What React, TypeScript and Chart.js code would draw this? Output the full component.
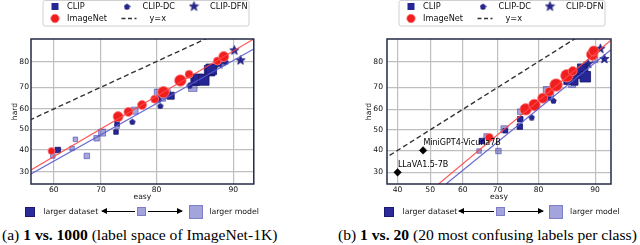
import React, { useEffect, useRef } from "react";
import { Chart, registerables } from "chart.js";

Chart.register(...registerables);

// ---------------- shared ticks ----------------
const yTicks = [30, 40, 50, 60, 70, 80];
const legendLabels = ["CLIP", "CLIP-DC", "CLIP-DFN", "ImageNet", "y=x"];

// ---------------- panel (a): 1 vs. 1000 ----------------
const xTicksA = [60, 70, 80, 90];
const xRangeA = [54.9, 91.9];
const yRangeA = [24.9, 86.9];

const clipLargeDataA_easy = [60.9, 72.9, 73.1, 82.2, 85.6, 86.0, 86.7, 87.4, 87.6];
const clipLargeDataA_hard = [39.9, 48.7, 52.8, 66.2, 72.5, 73.3, 73.0, 76.7, 77.2];
const clipLargeDataA_model = [2, 1, 1, 3, 4, 5, 5, 5, 5];

const clipSmallDataA_easy = [59.8, 64.0, 64.7, 67.1, 69.1, 70.2, 73.1, 76.3, 80.2, 80.9, 81.5, 85.3, 88.9];
const clipSmallDataA_hard = [37.1, 40.7, 45.1, 37.1, 45.6, 48.4, 51.5, 59.2, 67.6, 65.3, 67.0, 70.0, 79.5];
const clipSmallDataA_model = [1, 1, 1, 2, 2, 3, 1, 3, 3, 3, 4, 4, 2];

const clipDcA_easy = [75.9, 80.3, 80.6, 84.9, 89.2];
const clipDcA_hard = [53.8, 64.6, 61.5, 70.8, 79.9];

const clipDfnA_easy = [88.5, 90.1, 90.7];
const clipDfnA_hard = [79.2, 83.8, 80.6];

const imagenetA_easy = [59.5, 73.3, 75.2, 77.6, 79.7, 81.1, 83.6, 84.8, 88.3, 89.0];
const imagenetA_hard = [39.4, 56.3, 58.6, 61.9, 64.6, 67.8, 72.8, 75.3, 80.2, 81.7];
const imagenetA_model = [1, 4, 3, 3, 2, 5, 5, 2, 2, 4];

const redFitA_easy = [54.9, 91.9];
const redFitA_hard = [30.7, 86.9];
const blueFitA_easy = [54.9, 91.9];
const blueFitA_hard = [29.0, 84.1];

// ---------------- panel (b): 1 vs. 20 ----------------
const xTicksB = [40, 50, 60, 70, 80, 90];
const xRangeB = [36.86, 92.0];
const yRangeB = [25.2, 86.9];

const clipLargeDataB_easy = [65.6, 72.0, 75.7, 75.8, 82.0, 85.8, 86.9, 87.5, 88.2, 88.6];
const clipLargeDataB_hard = [44.5, 49.6, 51.6, 55.2, 66.0, 73.0, 72.4, 75.7, 77.3, 74.4];
const clipLargeDataB_model = [2, 1, 2, 2, 1, 4, 3, 5, 5, 5];

const clipSmallDataB_easy = [64.8, 66.8, 70.2, 71.8, 75.8, 82.1, 86.5, 90.0];
const clipSmallDataB_hard = [39.7, 47.0, 39.7, 50.3, 58.9, 68.1, 71.5, 80.6];
const clipSmallDataB_model = [1, 1, 2, 3, 2, 5, 3, 2];

const clipDcB_easy = [78.5, 82.1, 83.1];
const clipDcB_hard = [56.2, 65.5, 64.1];

const clipDfnB_easy = [89.0, 90.7, 91.2];
const clipDfnB_hard = [79.4, 84.3, 81.1];

const imagenetB_easy = [67.7, 77.1, 79.1, 80.9, 82.3, 83.6, 85.6, 86.6, 89.6, 89.8];
const imagenetB_hard = [46.3, 60.0, 62.1, 65.2, 68.1, 71.0, 74.8, 76.6, 82.4, 83.5];
const imagenetB_model = [2, 5, 5, 4, 3, 6, 6, 3, 5, 4];

const mllmB_names = ["LLaVA1.5-7B", "MiniGPT4-Vicuna7B"];
const mllmB_easy = [40.0, 47.8];
const mllmB_hard = [30.0, 40.0];

const redFitB_easy = [52.6, 92.0];
const redFitB_hard = [25.2, 86.6];
const blueFitB_easy = [54.9, 92.0];
const blueFitB_hard = [25.2, 83.9];

const identity = [20, 96];

// ---------------- styles ----------------
const FONT = '"DejaVu Sans", sans-serif';
const SERIF = '"Liberation Serif", "Times New Roman", serif';
const NAVY = "rgb(38,38,150)";
const NAVY_EDGE = "rgb(22,22,105)";
const LIGHT = "rgba(60,60,175,0.45)";
const LIGHT_EDGE = "rgba(60,60,175,0.7)";
const RED = "rgb(240,30,30)";
const RED_EDGE = "rgb(255,120,120)";
const GRID = "#bfbfbf";
const SQUARE_SIDE = [0, 4.5, 5.5, 7, 8.5, 10.5, 12.5];
const CIRCLE_DIAM = [0, 7, 8, 9, 10, 11.5, 12.5];

// inverse normal CDF (probit), used for the probit-scaled axes
function probit(p: number): number {
  const a = [-39.69683028665376, 220.9460984245205, -275.9285104469687, 138.357751867269, -30.66479806614716, 2.506628277459239];
  const b = [-54.47609879822406, 161.5858368580409, -155.6989798598866, 66.80131188771972, -13.28068155288572];
  const c = [-0.007784894002430293, -0.3223964580411365, -2.400758277161838, -2.549732539343734, 4.374664141464968, 2.938163982698783];
  const d = [0.007784695709041462, 0.3224671290700398, 2.445134137142996, 3.754408661907416];
  const pl = 0.02425;
  if (p < pl) {
    const q = Math.sqrt(-2 * Math.log(p));
    return (((((c[0] * q + c[1]) * q + c[2]) * q + c[3]) * q + c[4]) * q + c[5]) / ((((d[0] * q + d[1]) * q + d[2]) * q + d[3]) * q + 1);
  }
  if (p <= 1 - pl) {
    const q = p - 0.5;
    const r = q * q;
    return ((((((a[0] * r + a[1]) * r + a[2]) * r + a[3]) * r + a[4]) * r + a[5]) * q) / (((((b[0] * r + b[1]) * r + b[2]) * r + b[3]) * r + b[4]) * r + 1);
  }
  const q = Math.sqrt(-2 * Math.log(1 - p));
  return -(((((c[0] * q + c[1]) * q + c[2]) * q + c[3]) * q + c[4]) * q + c[5]) / ((((d[0] * q + d[1]) * q + d[2]) * q + d[3]) * q + 1);
}
const P = (v: number) => probit(v / 100);
const pts = (e: number[], h: number[]) => e.map((v, i) => ({ x: P(v), y: P(h[i]) }));

function makeShape(kind: "pentagon" | "star", size: number) {
  const c = document.createElement("canvas");
  c.width = size;
  c.height = size;
  const ctx = c.getContext("2d")!;
  const cx = size / 2;
  const cy = size / 2 + (kind === "star" ? 0.5 : 0.3);
  const R = size / 2 - 0.6;
  const n = kind === "star" ? 10 : 5;
  ctx.beginPath();
  for (let i = 0; i < n; i++) {
    const ang = -Math.PI / 2 + (i * 2 * Math.PI) / n;
    const rr = kind === "star" ? (i % 2 === 0 ? R : R * 0.42) : R;
    const x = cx + rr * Math.cos(ang);
    const y = cy + rr * Math.sin(ang);
    if (i === 0) ctx.moveTo(x, y);
    else ctx.lineTo(x, y);
  }
  ctx.closePath();
  ctx.fillStyle = NAVY;
  ctx.fill();
  ctx.strokeStyle = NAVY_EDGE;
  ctx.lineWidth = 0.7;
  ctx.stroke();
  return c;
}

type Spec = {
  xTicks: number[];
  xRange: number[];
  yRange: number[];
  yAxisWidth: number;
  yTickPad: number;
  yTitlePad: number;
  rightPad: number;
  large: [number[], number[], number[]];
  small: [number[], number[], number[]];
  dc: [number[], number[]];
  dfn: [number[], number[]];
  inet: [number[], number[], number[]];
  redFit: [number[], number[]];
  blueFit: [number[], number[]];
  mllm?: [string[], number[], number[]];
};

const specA: Spec = {
  xTicks: xTicksA,
  xRange: xRangeA,
  yRange: yRangeA,
  yAxisWidth: 31,
  yTickPad: 2,
  yTitlePad: 10.5,
  rightPad: 5.5,
  large: [clipLargeDataA_easy, clipLargeDataA_hard, clipLargeDataA_model],
  small: [clipSmallDataA_easy, clipSmallDataA_hard, clipSmallDataA_model],
  dc: [clipDcA_easy, clipDcA_hard],
  dfn: [clipDfnA_easy, clipDfnA_hard],
  inet: [imagenetA_easy, imagenetA_hard, imagenetA_model],
  redFit: [redFitA_easy, redFitA_hard],
  blueFit: [blueFitA_easy, blueFitA_hard],
};

const specB: Spec = {
  xTicks: xTicksB,
  xRange: xRangeB,
  yRange: yRangeB,
  yAxisWidth: 67,
  yTickPad: 4,
  yTitlePad: 44.5,
  rightPad: 9,
  large: [clipLargeDataB_easy, clipLargeDataB_hard, clipLargeDataB_model],
  small: [clipSmallDataB_easy, clipSmallDataB_hard, clipSmallDataB_model],
  dc: [clipDcB_easy, clipDcB_hard],
  dfn: [clipDfnB_easy, clipDfnB_hard],
  inet: [imagenetB_easy, imagenetB_hard, imagenetB_model],
  redFit: [redFitB_easy, redFitB_hard],
  blueFit: [blueFitB_easy, blueFitB_hard],
  mllm: [mllmB_names, mllmB_easy, mllmB_hard],
};

function buildConfig(spec: Spec): any {
  const pent = makeShape("pentagon", 7);
  const star = makeShape("star", 11);
  const datasets: any[] = [
    {
      label: "y=x",
      data: pts(identity, identity),
      showLine: true,
      borderColor: "#333",
      borderWidth: 1.4,
      borderDash: [5, 3],
      pointRadius: 0,
      order: 0,
    },
    {
      label: "fit ImageNet",
      data: pts(spec.redFit[0], spec.redFit[1]),
      showLine: true,
      borderColor: "rgba(255,70,70,0.9)",
      borderWidth: 1.2,
      pointRadius: 0,
      order: 1,
    },
    {
      label: "fit CLIP",
      data: pts(spec.blueFit[0], spec.blueFit[1]),
      showLine: true,
      borderColor: "rgba(90,90,205,0.9)",
      borderWidth: 1.2,
      pointRadius: 0,
      order: 1,
    },
    {
      label: "ImageNet",
      data: pts(spec.inet[0], spec.inet[1]),
      pointStyle: "circle",
      pointRadius: spec.inet[2].map((m) => CIRCLE_DIAM[m] / 2),
      backgroundColor: RED,
      borderColor: RED_EDGE,
      borderWidth: 0.8,
      order: 2,
    },
    {
      label: "CLIP-DFN",
      data: pts(spec.dfn[0], spec.dfn[1]),
      pointStyle: star,
      pointRadius: 4,
      order: 3,
    },
    {
      label: "CLIP-DC",
      data: pts(spec.dc[0], spec.dc[1]),
      pointStyle: pent,
      pointRadius: 3,
      order: 4,
    },
    {
      label: "CLIP",
      data: pts(spec.large[0], spec.large[1]),
      pointStyle: "rect",
      pointRadius: spec.large[2].map((m) => SQUARE_SIDE[m] / Math.SQRT2),
      backgroundColor: NAVY,
      borderColor: NAVY_EDGE,
      borderWidth: 0.8,
      order: 5,
    },
    {
      label: "CLIP (smaller data)",
      data: pts(spec.small[0], spec.small[1]),
      pointStyle: "rect",
      pointRadius: spec.small[2].map((m) => SQUARE_SIDE[m] / Math.SQRT2),
      backgroundColor: LIGHT,
      borderColor: LIGHT_EDGE,
      borderWidth: 0.8,
      order: 6,
    },
  ];
  if (spec.mllm) {
    datasets.push({
      label: "MLLM",
      data: pts(spec.mllm[1], spec.mllm[2]),
      pointStyle: "rectRot",
      pointRadius: 3.8,
      backgroundColor: "#000",
      borderColor: "#000",
      borderWidth: 0.5,
      order: 2,
      clip: false,
    });
  }

  const framePlugin = {
    id: "frame",
    afterDraw(chart: any) {
      const { ctx, chartArea: ca } = chart;
      ctx.save();
      ctx.strokeStyle = "#232a45";
      ctx.lineWidth = 1.5;
      ctx.strokeRect(ca.left, ca.top, ca.right - ca.left, ca.bottom - ca.top);
      ctx.restore();
    },
  };

  const mllmPlugin = {
    id: "mllmLabels",
    afterDatasetsDraw(chart: any) {
      if (!spec.mllm) return;
      const { ctx, scales } = chart;
      ctx.save();
      ctx.font = `8px ${FONT}`;
      ctx.fillStyle = "#000";
      ctx.textBaseline = "middle";
      ctx.textAlign = "left";
      spec.mllm[0].forEach((name, i) => {
        const x = scales.x.getPixelForValue(P(spec.mllm![1][i]));
        const y = scales.y.getPixelForValue(P(spec.mllm![2][i]));
        ctx.fillText(name, x + 0.3, y - 7.6);
      });
      ctx.restore();
    },
  };

  const legendPlugin = {
    id: "panelLegend",
    afterDraw(chart: any) {
      const { ctx, chartArea } = chart;
      const L = chartArea.left;
      ctx.save();
      const bx = L + 12, by = 0.5, bw = 206, bh = 25.5, r = 2;
      ctx.beginPath();
      ctx.moveTo(bx + r, by);
      ctx.lineTo(bx + bw - r, by);
      ctx.quadraticCurveTo(bx + bw, by, bx + bw, by + r);
      ctx.lineTo(bx + bw, by + bh - r);
      ctx.quadraticCurveTo(bx + bw, by + bh, bx + bw - r, by + bh);
      ctx.lineTo(bx + r, by + bh);
      ctx.quadraticCurveTo(bx, by + bh, bx, by + bh - r);
      ctx.lineTo(bx, by + r);
      ctx.quadraticCurveTo(bx, by, bx + r, by);
      ctx.closePath();
      ctx.fillStyle = "#fff";
      ctx.fill();
      ctx.strokeStyle = "#d0d0d0";
      ctx.lineWidth = 1;
      ctx.stroke();

      const r1 = 6.5, r2 = 18.5;
      // CLIP square
      ctx.fillStyle = NAVY;
      ctx.fillRect(L + 24 - 3.5, r1 - 3.5, 7, 7);
      // ImageNet circle
      ctx.beginPath();
      ctx.arc(L + 24, r2, 4.2, 0, Math.PI * 2);
      ctx.fillStyle = RED;
      ctx.fill();
      ctx.strokeStyle = RED_EDGE;
      ctx.lineWidth = 0.8;
      ctx.stroke();
      // CLIP-DC pentagon, CLIP-DFN star
      ctx.drawImage(pent, L + 96 - pent.width / 2, r1 - pent.height / 2);
      ctx.drawImage(star, L + 163 - star.width / 2, r1 - star.height / 2 - 0.5);
      // y=x dashed handle
      ctx.beginPath();
      ctx.setLineDash([4, 2.5]);
      ctx.moveTo(L + 90.5, r2);
      ctx.lineTo(L + 105.5, r2);
      ctx.strokeStyle = "#333";
      ctx.lineWidth = 1.3;
      ctx.stroke();
      ctx.setLineDash([]);

      ctx.font = `8.2px ${FONT}`;
      ctx.fillStyle = "#111";
      ctx.textBaseline = "middle";
      ctx.textAlign = "left";
      ctx.fillText(legendLabels[0], L + 36, r1);
      ctx.fillText(legendLabels[1], L + 111.5, r1);
      ctx.fillText(legendLabels[2], L + 179, r1);
      ctx.fillText(legendLabels[3], L + 36, r2);
      ctx.fillText(legendLabels[4], L + 118.5, r2);
      ctx.restore();
    },
  };

  return {
    type: "scatter",
    data: { datasets },
    options: {
      animation: false,
      responsive: false,
      devicePixelRatio: 1,
      events: [],
      layout: { padding: { top: 39, left: 0, right: spec.rightPad, bottom: 0 } },
      plugins: { legend: { display: false }, tooltip: { enabled: false } },
      scales: {
        x: {
          type: "linear",
          min: P(spec.xRange[0]),
          max: P(spec.xRange[1]),
          afterBuildTicks: (s: any) => {
            s.ticks = spec.xTicks.map((v) => ({ value: P(v) }));
          },
          afterFit: (s: any) => {
            s.height = 26;
          },
          ticks: {
            autoSkip: false,
            maxRotation: 0,
            padding: 1,
            color: "#111",
            font: { family: FONT, size: 7.6 },
            callback: (_v: any, i: number) => String(spec.xTicks[i]),
          },
          grid: { color: GRID, lineWidth: 1.2, drawTicks: false },
          border: { display: false },
          title: {
            display: true,
            text: "easy",
            color: "#111",
            font: { family: FONT, size: 7.6 },
            padding: { top: 0, bottom: 8.2 },
          },
        },
        y: {
          type: "linear",
          min: P(spec.yRange[0]),
          max: P(spec.yRange[1]),
          afterBuildTicks: (s: any) => {
            s.ticks = yTicks.map((v) => ({ value: P(v) }));
          },
          afterFit: (s: any) => {
            s.width = spec.yAxisWidth;
          },
          ticks: {
            autoSkip: false,
            padding: spec.yTickPad,
            color: "#111",
            font: { family: FONT, size: 7.6 },
            callback: (_v: any, i: number) => String(yTicks[i]),
          },
          grid: { color: GRID, lineWidth: 1.2, drawTicks: false },
          border: { display: false },
          title: {
            display: true,
            text: "hard",
            color: "#111",
            font: { family: FONT, size: 7.6 },
            padding: { top: spec.yTitlePad, bottom: 0 },
          },
        },
      },
    },
    plugins: [framePlugin, mllmPlugin, legendPlugin],
  };
}

function PanelChart({ spec, left, width }: { spec: Spec; left: number; width: number }) {
  const ref = useRef<HTMLCanvasElement>(null);
  useEffect(() => {
    const chart = new Chart(ref.current!, buildConfig(spec));
    return () => chart.destroy();
  }, [spec]);
  return (
    <canvas
      ref={ref}
      width={width}
      height={210}
      style={{ position: "absolute", left, top: 0, width, height: 210 }}
    />
  );
}

function Arrow({ x1, x2, y, headLeft }: { x1: number; x2: number; y: number; headLeft: boolean }) {
  const head: any = {
    position: "absolute",
    top: -3,
    width: 0,
    height: 0,
    borderTop: "3.5px solid transparent",
    borderBottom: "3.5px solid transparent",
  };
  if (headLeft) {
    head.left = -1;
    head.borderRight = "6px solid #000";
  } else {
    head.right = -1;
    head.borderLeft = "6px solid #000";
  }
  return (
    <div style={{ position: "absolute", left: x1, top: y - 0.5, width: x2 - x1, height: 1, background: "#000" }}>
      <div style={head} />
    </div>
  );
}

function Sq({ x, y, s, dark }: { x: number; y: number; s: number; dark: boolean }) {
  return (
    <div
      style={{
        position: "absolute",
        left: x,
        top: y - s / 2,
        width: s,
        height: s,
        boxSizing: "border-box",
        background: dark ? "#2b2b9c" : "#a4a4dc",
        border: `1px solid ${dark ? "#1a1a72" : "#7e7ec8"}`,
      }}
    />
  );
}

function SizeKey({ o }: { o: number[] }) {
  // o: [darkSq, textData, arrowL1, arrowL2, smallSq, arrowR1, arrowR2, bigSq, textModel]
  const y = 211.7;
  const txt: any = {
    position: "absolute",
    top: y - 5,
    height: 10,
    lineHeight: "10px",
    fontFamily: FONT,
    fontSize: 7.8,
    color: "#111",
    whiteSpace: "nowrap",
  };
  return (
    <>
      <Sq x={o[0]} y={y} s={10} dark />
      <div style={{ ...txt, left: o[1] }}>larger dataset</div>
      <Arrow x1={o[2]} x2={o[3]} y={y} headLeft />
      <Sq x={o[4]} y={y} s={9} dark={false} />
      <Arrow x1={o[5]} x2={o[6]} y={y} headLeft={false} />
      <Sq x={o[7]} y={y} s={14} dark={false} />
      <div style={{ ...txt, left: o[8] }}>larger model</div>
    </>
  );
}

export default function App() {
  const cap: any = {
    position: "absolute",
    top: 226,
    height: 18,
    lineHeight: "18px",
    fontFamily: SERIF,
    fontSize: 15.6,
    color: "#000",
    whiteSpace: "nowrap",
  };
  return (
    <div
      style={{
        position: "absolute",
        left: 0,
        top: 0,
        width: 640,
        height: 245,
        background: "#fff",
        overflow: "hidden",
      }}
    >
      <PanelChart spec={specA} left={0} width={262} />
      <PanelChart spec={specB} left={320} width={300} />
      <SizeKey o={[25, 43.3, 101.7, 135.5, 137, 147.5, 181.7, 189.3, 209.3]} />
      <SizeKey o={[383.5, 402.5, 458.8, 494.5, 496, 507.5, 543, 549.4, 570]} />
      <div style={{ ...cap, left: 2 }}>
        (a) <b>1 vs. 1000</b> (label space of ImageNet-1K)
      </div>
      <div style={{ ...cap, left: 338 }}>
        (b) <b>1 vs. 20</b> (20 most confusing labels per class)
      </div>
    </div>
  );
}
